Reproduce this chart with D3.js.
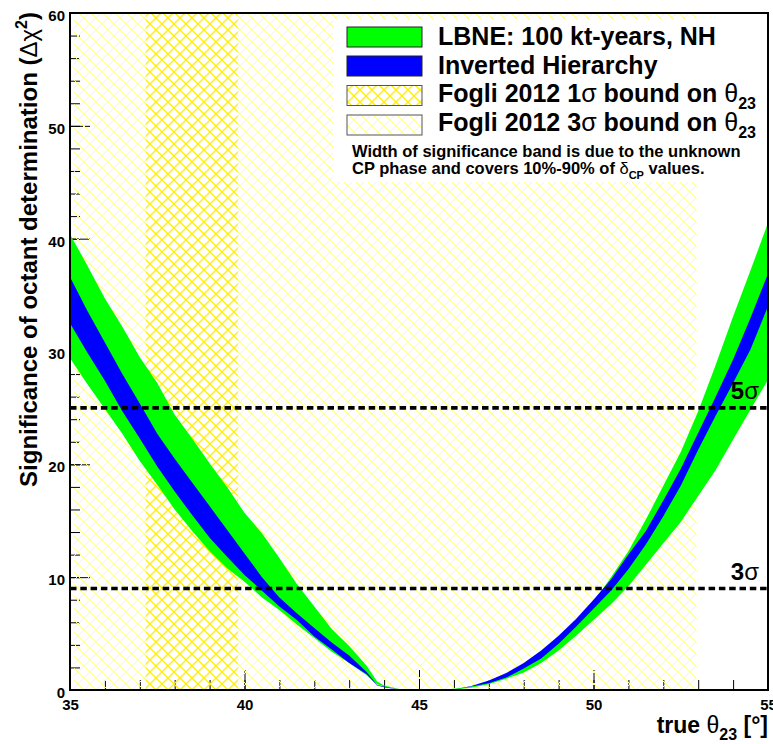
<!DOCTYPE html>
<html><head><meta charset="utf-8">
<script src="https://cdn.jsdelivr.net/npm/d3@7"></script>
<style>
html,body{margin:0;padding:0;background:#fff;}
svg{display:block;font-family:'Liberation Sans',Arial,Helvetica,sans-serif;}
</style></head><body>
<svg id="c" width="773" height="744"></svg>
<script>
// ---- data ----
const theta  = [35,35.5,36,36.5,37,37.5,38,38.5,39,39.5,40,40.5,41,41.5,42,42.5,43,43.5,43.8,44,44.5,45,45.5,46,46.5,47,47.5,48,48.5,49,49.5,50,50.5,51,51.5,52,52.5,53,53.5,54,54.5,55];
const nhHigh = [40.4,37.6,34.7,32.2,29.5,27.2,24.4,22.3,20.1,18.0,15.7,13.9,11.7,9.4,7.4,5.4,3.9,2.15,0.75,0.4,0.05,0,0,0.1,0.3,0.75,1.25,2.0,3.0,4.3,5.8,7.8,10.0,12.3,15.1,18.1,21.1,24.7,28.8,33.1,37.2,41.4];
const nhLow  = [29.4,27.1,24.9,22.7,20.3,18.2,16.0,14.1,12.3,10.8,9.6,8.2,7.1,5.8,4.6,3.4,2.4,1.3,0.5,0.3,0.02,0,0,0.05,0.2,0.5,1.0,1.55,2.4,3.5,4.8,6.2,7.6,9.2,11.1,13.0,14.9,17.2,19.5,22.2,24.85,27.5];
const ihHigh = [36.6,33.6,30.8,28.0,25.4,22.7,20.5,18.4,16.3,14.2,12.1,10.0,8.2,6.8,5.5,4.2,3.05,1.6,0.45,0.3,0,0,0,0.05,0.35,0.85,1.5,2.4,3.5,4.8,6.3,8.0,9.8,12.0,14.1,16.8,19.6,22.8,26.0,29.3,33.0,36.9];
const ihLow  = [32.5,29.9,27.4,24.7,22.3,19.8,17.6,15.5,13.5,11.8,10.2,8.8,7.4,6.2,4.75,3.6,2.4,1.4,0.4,0.25,0,0,0,0.05,0.3,0.6,1.1,1.9,2.8,4.1,5.6,7.2,8.8,10.7,12.9,15.4,18.1,21.3,24.3,27.2,30.2,34.0];
const xTicks = [35,40,45,50,55];
const yTicks = [0,10,20,30,40,50,60];
const sigmaLevels = [9,25];
const sigmaNames = ["3","5"];
const fogli1s = [37.17,39.81];
const fogli3s = [35.12,52.95];
const legendLabels = ["LBNE: 100 kt-years, NH","Inverted Hierarchy","Fogli 2012 1\u03c3 bound on \u03b8","Fogli 2012 3\u03c3 bound on \u03b8"];

// ---- setup ----
const svg = d3.select('#c');
svg.append('rect').attr('width',773).attr('height',744).attr('fill','#fff');
const x = d3.scaleLinear().domain([35,55]).range([70,768]);
const y = d3.scaleLinear().domain([0,60]).range([690,13]);
const defs = svg.append('defs');
defs.append('clipPath').attr('id','plotClip').append('rect')
  .attr('x',70).attr('y',13).attr('width',698).attr('height',677);
function hatch(id,color,sw,crisp){
  const p = defs.append('pattern').attr('id',id).attr('patternUnits','userSpaceOnUse')
    .attr('width',12).attr('height',12);
  const path = p.append('path').attr('d','M5,-1L13,7M-1,5L7,13M-1,7L7,-1M5,13L13,5')
    .attr('stroke',color).attr('stroke-width',sw).attr('fill','none');
  if(crisp) path.attr('shape-rendering','crispEdges');
}
hatch('h3','#ffff88',1,true);
hatch('h1','#ffee00',1.3,false);

const font = "'Liberation Sans',Arial,Helvetica,sans-serif";

// ---- ticks (inside) ----
const xMajor = d3.axisBottom(x).tickValues(xTicks).tickSizeInner(-20).tickSizeOuter(0).tickPadding(9).tickFormat(d3.format('d'));
const xMin = d3.axisBottom(x).ticks(20).tickSizeInner(-10).tickSizeOuter(0).tickFormat('');
const yMajor = d3.axisLeft(y).tickValues(yTicks).tickSizeInner(-20).tickSizeOuter(0).tickPadding(5).tickFormat(d3.format('d'));
const yMin = d3.axisLeft(y).ticks(30).tickSizeInner(-10).tickSizeOuter(0).tickFormat('');
function styleAxis(g){
  g.select('.domain').remove();
  g.selectAll('line').attr('stroke','#000').attr('stroke-width',1);
  g.selectAll('text').attr('fill','#000').style('font-family',font).style('font-weight','bold').style('font-size','15px');
}
const gxm = svg.append('g').attr('transform','translate(0,690)').call(xMin); styleAxis(gxm);
const gym = svg.append('g').attr('transform','translate(70,0)').call(yMin); styleAxis(gym);
const gx = svg.append('g').attr('transform','translate(0,690)').call(xMajor); styleAxis(gx);
gx.selectAll('text').attr('dy',null).attr('y',20);
const gy = svg.append('g').attr('transform','translate(70,0)').call(yMajor); styleAxis(gy);
gy.selectAll('text').attr('dy',null).attr('y',7.4);

// ---- hatch regions ----
const plot = svg.append('g').attr('clip-path','url(#plotClip)');
plot.append('rect').attr('x',x(fogli3s[0])).attr('width',x(fogli3s[1])-x(fogli3s[0]))
  .attr('y',y(60)).attr('height',y(0)-y(60)).attr('fill','url(#h3)');
plot.append('rect').attr('x',x(fogli1s[0])).attr('width',x(fogli1s[1])-x(fogli1s[0]))
  .attr('y',y(60)).attr('height',y(0)-y(60)).attr('fill','url(#h1)');

// ---- bands ----
const area = d3.area().x(d=>x(d.t)).y0(d=>y(d.lo)).y1(d=>y(d.hi));
const nh = theta.map((t,i)=>({t,lo:nhLow[i],hi:nhHigh[i]}));
const ih = theta.map((t,i)=>({t,lo:ihLow[i],hi:ihHigh[i]}));
plot.append('path').datum(nh).attr('d',area).attr('fill','#00ff00');
plot.append('path').datum(ih).attr('d',area).attr('fill','#0000ff');

// ---- sigma lines ----
sigmaLevels.forEach((lv,i)=>{
  plot.append('line').attr('x1',x(35)).attr('x2',x(55)).attr('y1',y(lv)).attr('y2',y(lv))
    .attr('stroke','#000').attr('stroke-width',3.6).attr('stroke-dasharray','6.5,3.8');
  const t = svg.append('text').attr('x',759).attr('y',y(lv)-8.5).attr('text-anchor','end')
    .style('font-family',font).style('font-size','24px').style('font-weight','bold');
  t.append('tspan').text(sigmaNames[i]);
  t.append('tspan').style('font-weight','normal').text('\u03c3');
});

// ---- frame ----
svg.append('rect').attr('x',70).attr('y',13).attr('width',698).attr('height',677)
  .attr('fill','none').attr('stroke','#000').attr('stroke-width',2);

// ---- legend ----
const lg = svg.append('g');
lg.append('rect').attr('x',333).attr('y',19).attr('width',433).attr('height',163).attr('fill','#fff');
const swFill = ['#00ff00','#0000ff','url(#h1)','url(#h3)'];
const swStroke = ['#222','#222','#555','#555'];
const rowY = [27,56,85.5,115];
const baseY = [45,73.5,102,130.5];
legendLabels.forEach((lab,i)=>{
  lg.append('rect').attr('x',347).attr('y',rowY[i]).attr('width',75).attr('height',20)
    .attr('fill','#fff').attr('stroke','none');
  lg.append('rect').attr('x',347).attr('y',rowY[i]).attr('width',75).attr('height',20)
    .attr('fill',swFill[i]).attr('stroke',swStroke[i]).attr('stroke-width',1);
  const t = lg.append('text').attr('x',438).attr('y',baseY[i])
    .style('font-family',font).style('font-size','25px').style('font-weight','bold');
  if(i<2){ t.text(lab); }
  else {
    const parts = lab.split('\u03c3');
    t.append('tspan').text(parts[0]);
    t.append('tspan').style('font-weight','normal').text('\u03c3');
    const p2 = parts[1].replace('\u03b8','');
    t.append('tspan').text(p2);
    t.append('tspan').style('font-weight','normal').text('\u03b8');
    t.append('tspan').attr('dy',7).style('font-size','16px').text('23');
  }
});
const n1 = lg.append('text').attr('x',352).attr('y',156.5)
  .style('font-family',font).style('font-size','16.5px').style('font-weight','bold')
  .text('Width of significance band is due to the unknown');
const n2 = lg.append('text').attr('x',352).attr('y',173.5)
  .style('font-family',font).style('font-size','16.5px').style('font-weight','bold');
n2.append('tspan').text('CP phase and covers 10%-90% of ');
n2.append('tspan').style('font-weight','normal').text('\u03b4');
n2.append('tspan').attr('dy',5).style('font-size','11px').text('CP');
n2.append('tspan').attr('dy',-5).text(' values.');

// ---- axis titles ----
const xt = svg.append('text').attr('x',768).attr('y',733).attr('text-anchor','end')
  .style('font-family',font).style('font-size','23px').style('font-weight','bold');
xt.append('tspan').text('true ');
xt.append('tspan').style('font-weight','normal').text('\u03b8');
xt.append('tspan').attr('dy',7).style('font-size','16px').text('23');
xt.append('tspan').attr('dy',-7).text(' [\u00b0]');

const yt = svg.append('text').attr('transform','translate(37,12) rotate(-90)').attr('text-anchor','end')
  .style('font-family',font).style('font-size','24px').style('font-weight','bold');
yt.append('tspan').text('Significance of octant determination (');
yt.append('tspan').style('font-weight','normal').text('\u0394\u03c7');
yt.append('tspan').attr('dy',-10).style('font-size','16px').text('2');
yt.append('tspan').attr('dy',10).text(')');
</script>
</body></html>
